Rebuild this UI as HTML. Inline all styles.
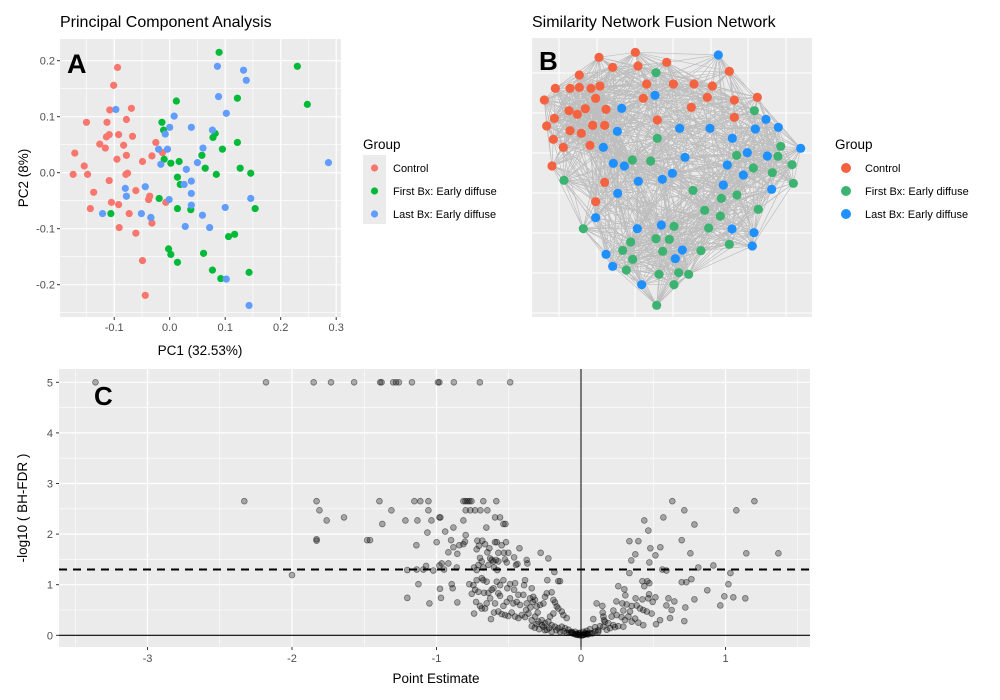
<!DOCTYPE html>
<html><head><meta charset="utf-8">
<style>
html,body{margin:0;padding:0;background:#fff;}
svg{display:block;font-family:"Liberation Sans",sans-serif;}
</style></head>
<body>
<svg id="fig" width="1000" height="700" viewBox="0 0 1000 700" xmlns="http://www.w3.org/2000/svg">
<g id="pA"></g>
<g id="pB"></g>
<g id="pC"></g>
</svg>
<script>
// ---------- Panel A data ----------
const pcaGroups = ["Control","First Bx: Early diffuse","Last Bx: Early diffuse"];
const pcaColors = ["#F8766D","#00BA38","#619CFF"];
const ctrlX = [-0.094,-0.101,-0.108,-0.069,-0.150,-0.113,-0.078,-0.109,-0.114,-0.092,-0.067,-0.126,-0.116,-0.083,-0.025,-0.171,-0.095,-0.078,-0.013,-0.032,-0.154,-0.049,-0.174,-0.148,-0.079,-0.076,-0.109,-0.137,-0.061,-0.036,-0.038,-0.105,-0.092,-0.143,-0.073,-0.007,-0.091,-0.061,-0.032,-0.049,-0.044];
const ctrlY = [0.188,0.156,0.112,0.115,0.090,0.090,0.095,0.068,0.064,0.068,0.065,0.051,0.044,0.049,0.054,0.035,0.024,0.031,0.036,0.030,0.012,0.020,-0.003,-0.003,-0.003,-0.001,-0.014,-0.035,-0.032,-0.042,-0.048,-0.053,-0.057,-0.064,-0.073,-0.053,-0.098,-0.108,-0.090,-0.157,-0.219];
const firstX = [0.089,0.230,0.248,0.012,0.122,-0.014,-0.011,0.082,0.078,0.122,0.095,-0.010,0.002,0.017,0.058,0.064,0.127,0.084,0.146,0.014,0.019,-0.019,0.014,0.038,0.154,-0.106,-0.034,0.106,0.117,-0.002,0.002,0.014,0.061,0.077,0.092,0.143];
const firstY = [0.215,0.190,0.122,0.128,0.133,0.090,0.076,0.070,0.063,0.054,0.042,0.024,0.017,0.020,0.031,0.008,0.008,-0.003,-0.001,-0.008,-0.021,-0.046,-0.064,-0.066,-0.064,-0.073,-0.080,-0.114,-0.110,-0.136,-0.146,-0.160,-0.144,-0.174,-0.189,-0.178];
const lastX = [0.086,0.133,0.138,0.088,0.102,-0.097,0.008,0.039,0.000,-0.008,0.077,-0.020,-0.004,0.060,-0.016,0.050,0.286,0.030,0.039,0.026,-0.080,-0.044,0.039,-0.078,-0.001,0.039,0.146,0.100,-0.121,-0.051,-0.034,0.059,0.028,0.072,0.102,0.143];
const lastY = [0.190,0.183,0.165,0.136,0.106,0.113,0.101,0.081,0.081,0.069,0.076,0.042,0.042,0.044,0.015,0.018,0.018,0.006,-0.015,-0.021,-0.028,-0.025,-0.037,-0.042,-0.048,-0.058,-0.046,-0.062,-0.073,-0.073,-0.080,-0.076,-0.096,-0.098,-0.190,-0.237];
const pcaXTicks = [-0.1,0.0,0.1,0.2,0.3];
const pcaXTickLabels = ["-0.1","0.0","0.1","0.2","0.3"];
const pcaYTicks = [0.2,0.1,0.0,-0.1,-0.2];
const pcaYTickLabels = ["0.2","0.1","0.0","-0.1","-0.2"];

// ---------- Panel B data (network layout coordinates) ----------
const netGroups = ["Control","First Bx: Early diffuse","Last Bx: Early diffuse"];
const netColors = ["#F4623F","#3CB371","#1E90FF"];
const netCtrlX = [237,346,278,354,440,628,178,106,150,178,213,240,380,460,522,577,73,227,370,562,643,712,147,172,196,258,514,103,80,218,254,150,184,412,643,100,130,210,96,254,227];
const netCtrlY = [82,67,112,108,97,124,135,175,175,172,175,168,162,162,162,168,210,205,205,202,210,202,242,253,236,238,232,265,288,286,286,302,310,270,262,328,352,346,408,457,515];
const netFirstX = [408,703,412,337,392,650,782,774,700,757,816,820,132,519,604,651,554,601,715,190,566,628,543,332,308,408,448,462,428,338,319,417,476,506,462,410];
const netFirstY = [128,242,325,390,393,376,349,379,414,428,404,460,451,481,505,495,541,558,538,596,594,643,662,636,661,626,628,589,664,688,720,733,728,733,764,826];
const netLastX = [595,405,305,738,775,706,570,479,292,637,250,842,495,682,742,280,313,457,427,355,622,670,610,755,293,227,352,424,636,702,697,487,466,258,278,365];
const netLastY = [75,196,235,268,292,297,295,295,304,325,352,355,382,368,378,400,408,430,448,454,405,435,465,478,490,563,596,585,597,608,648,660,686,673,709,764];

// ---------- Panel C data ----------
const volEstimate = [
-3.36,-2.18,-1.85,-1.73,-1.57,-1.39,-1.38,-1.30,-1.28,-1.26,-1.17,-0.99,-0.98,-0.88,-0.70,-0.49,
-2.33,-1.83,-1.81,-1.76,-1.64,-1.48,-1.83,-1.83,-2.00,
-1.395,-1.312,-1.375,-1.215,-1.153,-1.112,-1.056,-1.056,-1.132,-1.035,-1.063,-0.973,-0.814,-0.800,-0.786,-0.772,-0.758,-0.798,-0.766,-0.733,-0.696,-0.648,-0.676,-0.586,-0.595,-0.560,-0.537,-0.523,-0.814,-0.883,-0.655,-1.139,-1.46,-0.98,-0.94,
-0.999,-0.899,-0.883,-0.918,-0.856,-0.842,-0.814,-0.803,-0.798,-0.717,-0.683,-0.664,-0.722,-0.706,-0.648,-0.634,-0.595,-0.583,-0.549,-0.519,-0.572,-0.533,-0.503,-0.426,-0.463,-0.629,-0.618,-0.606,-0.588,-0.572,-0.699,-0.687,-0.710,-0.722,-0.740,-0.676,-0.641,-0.602,-0.579,-0.526,-0.514,-0.376,-0.371,-0.279,-0.226,-0.450,-0.440,-1.202,-1.137,-1.091,-1.072,-1.022,-0.980,-0.964,-0.948,-0.918,-0.860,-0.184,-0.157,-0.145,-0.233,
-1.125,-0.976,-0.895,-0.888,-1.202,-0.969,-1.049,-0.856,-0.773,-0.745,-0.722,-0.687,-0.676,-0.653,-0.733,-0.756,-0.710,-0.671,-0.641,-0.618,-0.606,-0.583,-0.560,-0.537,-0.510,-0.491,-0.456,-0.463,-0.433,-0.399,-0.387,-0.394,-0.341,-0.330,-0.318,-0.249,-0.237,-0.203,
-0.726,-0.699,-0.664,-0.653,-0.629,-0.595,-0.572,-0.560,-0.537,-0.514,-0.491,-0.468,-0.445,-0.422,-0.376,-0.353,-0.334,-0.307,-0.283,-0.260,-0.191,-0.180,-0.168,
-0.740,-0.687,-0.623,-0.602,-0.572,-0.549,-0.526,-0.503,-0.480,-0.456,-0.433,-0.410,-0.387,-0.341,-0.318,-0.295,-0.272,-0.249,-0.226,-0.203,-0.180,-0.157,-0.133,-0.110,-0.087,-0.064,-0.041,-0.018,-0.010,-0.214,-0.191,-0.157,-0.133,-0.122,-0.099,-0.341,-0.307,-0.260,-0.237,-0.203,-0.145,-0.099,-0.053,-0.030,-0.364,-0.380,-0.350,-0.300,-0.270,-0.320,-0.290,-0.250,-0.220,-0.170,-0.120,-0.080,
0.016,0.04,0.06,
0.632,0.715,1.200,1.075,0.438,0.570,0.785,0.466,0.335,0.397,0.697,0.480,0.549,0.376,0.515,0.757,1.144,1.366,0.348,0.473,0.563,0.591,0.812,0.916,0.335,1.034,0.425,0.459,0.438,0.473,0.764,0.697,0.729,1.020,0.258,0.300,0.874,0.307,0.471,0.378,0.425,0.466,0.515,0.605,0.646,0.785,0.992,1.054,1.137,0.964,0.722,0.715,
0.245,0.286,0.316,0.351,0.385,0.408,0.431,0.455,0.489,0.496,0.591,0.627,0.616,0.547,0.519,0.431,0.108,0.148,0.150,0.224,0.212,0.247,0.281,0.304,0.328,0.351,0.374,0.397,0.085,0.155,0.166,0.189,0.224,0.258,0.293,0.132,0.097,0.062,0.039,0.016,-0.007,0.201,0.235,0.155,0.178,0.120,0.074,0.028,0.159,0.339,0.293,
0.00,0.02,-0.02,0.04,-0.04,0.01,-0.01,0.03,-0.03,0.05,-0.06,0.08,0.10,0.12,-0.07
];
const volLogFdr = [
5,5,5,5,5,5,5,5,5,5,5,5,5,5,5,5,
2.65,2.65,2.47,2.27,2.33,1.88,1.90,1.87,1.19,
2.65,2.47,2.20,2.27,2.65,2.65,2.65,2.47,2.27,2.27,2.03,2.33,2.65,2.65,2.65,2.65,2.65,2.47,2.47,2.47,2.47,2.47,2.65,2.65,2.33,2.33,2.20,2.20,2.27,2.13,2.13,1.78,1.88,2.33,2.05,
1.84,1.88,1.74,1.64,1.61,1.78,1.80,1.85,1.98,1.87,1.87,1.80,1.70,1.77,1.64,1.72,1.84,1.84,1.78,1.84,1.63,1.63,1.63,1.72,1.54,1.52,1.49,1.46,1.49,1.46,1.53,1.46,1.39,1.29,1.34,1.34,1.39,1.34,1.29,1.50,1.44,1.49,1.42,1.63,1.52,1.39,1.41,1.29,1.30,1.30,1.37,1.28,1.38,1.42,1.30,1.42,1.34,1.25,1.07,1.07,1.09,
1.01,0.92,1.01,0.93,0.74,0.74,0.63,0.65,1.01,0.99,1.09,1.13,1.09,1.06,0.90,0.82,0.86,0.84,0.84,0.90,0.93,1.06,0.99,1.09,0.93,1.01,1.03,0.90,0.80,0.80,1.09,0.99,0.93,0.76,0.70,0.76,0.83,0.85,
0.66,0.58,0.53,0.63,0.73,0.63,0.83,0.78,0.58,0.66,0.73,0.63,0.66,0.60,0.63,0.73,0.66,0.57,0.60,0.63,0.70,0.65,0.57,
0.43,0.53,0.32,0.45,0.47,0.42,0.40,0.38,0.45,0.37,0.34,0.40,0.36,0.30,0.37,0.27,0.30,0.24,0.27,0.20,0.17,0.14,0.17,0.14,0.11,0.07,0.07,0.04,0.03,0.37,0.43,0.53,0.47,0.40,0.34,0.18,0.22,0.17,0.11,0.07,0.07,0.05,0.03,0.01,0.43,0.50,0.55,0.45,0.20,0.15,0.12,0.10,0.14,0.10,0.08,0.05,
0.01,0.03,0.04,
2.65,2.47,2.65,2.47,2.27,2.33,2.19,2.07,1.86,1.86,1.88,1.72,1.74,1.60,1.58,1.62,1.62,1.62,1.48,1.44,1.30,1.28,1.34,1.38,1.23,1.23,1.07,1.07,0.97,1.03,1.11,1.05,1.05,1.01,0.97,0.91,0.89,0.79,0.81,0.73,0.71,0.73,0.75,0.73,0.67,0.71,0.77,0.75,0.73,0.59,0.55,0.28,
0.67,0.63,0.61,0.58,0.59,0.53,0.50,0.47,0.43,0.66,0.59,0.50,0.34,0.30,0.22,0.20,0.63,0.58,0.45,0.49,0.37,0.40,0.36,0.30,0.37,0.27,0.33,0.25,0.32,0.37,0.27,0.24,0.20,0.18,0.17,0.18,0.16,0.12,0.09,0.07,0.05,0.14,0.16,0.17,0.11,0.07,0.04,0.03,0.30,0.47,0.49,
0.00,0.01,0.01,0.02,0.02,0.00,0.00,0.05,0.03,0.02,0.05,0.04,0.08,0.10,0.06
];
const volXTicks = [-3,-2,-1,0,1];
const volXTickLabels = ["-3","-2","-1","0","1"];
const volYTicks = [0,1,2,3,4,5];
const volYTickLabels = ["0","1","2","3","4","5"];
const fdrThreshold = 1.3;

const NS = "http://www.w3.org/2000/svg";
function mk(parent, tag, attrs, text){
  const e = document.createElementNS(NS, tag);
  for (const k in attrs) e.setAttribute(k, attrs[k]);
  if (text !== undefined) e.textContent = text;
  parent.appendChild(e);
  return e;
}

// ===== Panel A =====
(function(){
  const g = document.getElementById('pA');
  const L=60,R=341,T=39,B=317;
  const xs = v => 169.7 + v*555;
  const ys = v => 172.7 - v*560;
  const t = mk(g,'text',{x:60,y:27,'font-size':16,fill:'#000'},'Principal Component Analysis');
  
  
  const bg = mk(g,'rect',{x:L,y:T,width:R-L,height:B-T,fill:'#EBEBEB'});
  
  
  for (let v=-0.15; v<0.31; v+=0.1){ mk(g,'line',{x1:xs(v),x2:xs(v),y1:T,y2:B,stroke:'#fff','stroke-width':0.6}); }
  for (let v=-0.25; v<0.23; v+=0.1){ mk(g,'line',{x1:L,x2:R,y1:ys(v),y2:ys(v),stroke:'#fff','stroke-width':0.6}); }
  pcaXTicks.forEach((v,i)=>{
    mk(g,'line',{x1:xs(v),x2:xs(v),y1:T,y2:B,stroke:'#fff','stroke-width':1.2});
    mk(g,'line',{x1:xs(v),x2:xs(v),y1:B,y2:B+3,stroke:'#333','stroke-width':1});
    const l = mk(g,'text',{x:xs(v),y:B+14,'font-size':11,fill:'#4D4D4D','text-anchor':'middle'},pcaXTickLabels[i]);
    
    
  });
  pcaYTicks.forEach((v,i)=>{
    mk(g,'line',{x1:L,x2:R,y1:ys(v),y2:ys(v),stroke:'#fff','stroke-width':1.2});
    mk(g,'line',{x1:L-3,x2:L,y1:ys(v),y2:ys(v),stroke:'#333','stroke-width':1});
    const l = mk(g,'text',{x:L-5,y:ys(v)+4,'font-size':11,fill:'#4D4D4D','text-anchor':'end'},pcaYTickLabels[i]);
    
    
  });
  const series = [[ctrlX,ctrlY],[firstX,firstY],[lastX,lastY]];
  series.forEach((s,gi)=>{
    s[0].forEach((x,i)=>{
      const c = mk(g,'circle',{cx:xs(x),cy:ys(s[1][i]),r:3.6,fill:pcaColors[gi]});
      
      
    });
  });
  const A = mk(g,'text',{x:67,y:73,'font-size':27,'font-weight':'bold',fill:'#000'},'A');
  
  
  const xt = mk(g,'text',{x:200,y:355,'font-size':13.5,fill:'#000','text-anchor':'middle'},'PC1 (32.53%)');
  
  
  const yt = mk(g,'text',{x:0,y:0,'font-size':13.5,fill:'#000','text-anchor':'middle',transform:'translate(28,178) rotate(-90)'},'PC2 (8%)');
  
  
  const lg = mk(g,'g',{});
  
  
  mk(lg,'text',{x:363,y:149,'font-size':13.5,fill:'#000'},'Group');
  mk(lg,'rect',{x:363,y:155,width:23,height:69,fill:'#EBEBEB'});
  pcaGroups.forEach((n,i)=>{
    const cy = 168+i*23;
    const e = mk(lg,'g',{});
    
    
    mk(e,'circle',{cx:374.5,cy:cy,r:3.6,fill:pcaColors[i]});
    mk(e,'text',{x:393,y:cy+4,'font-size':11,fill:'#000'},n);
  });
})();

// ===== Panel B =====
(function(){
  const g = document.getElementById('pB');
  const L=532,R=812,T=38,B=317;
  const xs = v => 520 + v/3;
  const ys = v => 30 + v/3;
  const t = mk(g,'text',{x:532,y:27,'font-size':16,fill:'#000'},'Similarity Network Fusion Network');
  
  
  const bg = mk(g,'rect',{x:L,y:T,width:R-L,height:B-T,fill:'#EBEBEB'});
  
  
  [559,597,635,673,711,748,786].forEach(x=>mk(g,'line',{x1:x,x2:x,y1:T,y2:B,stroke:'#fff','stroke-width':1.1}));
  [73,113,153,193,233,273,313].forEach(y=>mk(g,'line',{x1:L,x2:R,y1:y,y2:y,stroke:'#fff','stroke-width':1.1}));
  const nodes = [];
  netCtrlX.forEach((x,i)=>nodes.push([x,netCtrlY[i],0]));
  netFirstX.forEach((x,i)=>nodes.push([x,netFirstY[i],1]));
  netLastX.forEach((x,i)=>nodes.push([x,netLastY[i],2]));
  const eg = mk(g,'g',{stroke:'#BEBEBE','stroke-width':0.7,fill:'none'});
  
  
  let d = '';
  for (let i=0;i<nodes.length;i++){
    for (let j=i+1;j<nodes.length;j++){
      const dx=nodes[i][0]-nodes[j][0], dy=nodes[i][1]-nodes[j][1];
      const dist=Math.sqrt(dx*dx+dy*dy);
      const h=((i*7919+j*104729)%97)/97;
      const same = nodes[i][2]===nodes[j][2];
      if (dist<170 || (dist<380 && h<(same?0.28:0.12)) || (h<0.025)){
        d += 'M'+xs(nodes[i][0]).toFixed(1)+' '+ys(nodes[i][1]).toFixed(1)+'L'+xs(nodes[j][0]).toFixed(1)+' '+ys(nodes[j][1]).toFixed(1);
      }
    }
  }
  mk(eg,'path',{d:d});
  nodes.forEach(n=>{
    const c = mk(g,'circle',{cx:xs(n[0]),cy:ys(n[1]),r:4.6,fill:netColors[n[2]]});
    
    
  });
  const Bl = mk(g,'text',{x:539,y:70,'font-size':26,'font-weight':'bold',fill:'#000'},'B');
  
  
  const lg = mk(g,'g',{});
  
  
  mk(lg,'text',{x:835,y:149,'font-size':13.5,fill:'#000'},'Group');
  netGroups.forEach((n,i)=>{
    const cy = 168+i*23;
    const e = mk(lg,'g',{});
    
    
    mk(e,'circle',{cx:846,cy:cy,r:5,fill:netColors[i]});
    mk(e,'text',{x:865,y:cy+4,'font-size':11,fill:'#000'},n);
  });
})();

// ===== Panel C =====
(function(){
  const g = document.getElementById('pC');
  const L=59,R=810,T=369,B=647;
  const xs = v => 581 + v*144.5;
  const ys = v => 635.3 - v*50.6;
  const bg = mk(g,'rect',{x:L,y:T,width:R-L,height:B-T,fill:'#EBEBEB'});
  
  
  for (let v=-3.5; v<1.6; v+=1){ mk(g,'line',{x1:xs(v),x2:xs(v),y1:T,y2:B,stroke:'#fff','stroke-width':0.6}); }
  for (let v=0.5; v<5; v+=1){ mk(g,'line',{x1:L,x2:R,y1:ys(v),y2:ys(v),stroke:'#fff','stroke-width':0.6}); }
  volXTicks.forEach((v,i)=>{
    mk(g,'line',{x1:xs(v),x2:xs(v),y1:T,y2:B,stroke:'#fff','stroke-width':1.2});
    mk(g,'line',{x1:xs(v),x2:xs(v),y1:B,y2:B+3,stroke:'#333','stroke-width':1});
    const l = mk(g,'text',{x:xs(v),y:B+15,'font-size':11,fill:'#4D4D4D','text-anchor':'middle'},volXTickLabels[i]);
    
    
  });
  volYTicks.forEach((v,i)=>{
    mk(g,'line',{x1:L,x2:R,y1:ys(v),y2:ys(v),stroke:'#fff','stroke-width':1.2});
    mk(g,'line',{x1:L-3,x2:L,y1:ys(v),y2:ys(v),stroke:'#333','stroke-width':1});
    const l = mk(g,'text',{x:L-6,y:ys(v)+4,'font-size':11,fill:'#4D4D4D','text-anchor':'end'},volYTickLabels[i]);
    
    
  });
  const v0 = mk(g,'line',{x1:xs(0),x2:xs(0),y1:T,y2:B,stroke:'#000','stroke-width':1});
  
  
  const h0 = mk(g,'line',{x1:L,x2:R,y1:ys(0),y2:ys(0),stroke:'#000','stroke-width':1.2});
  
  
  volEstimate.forEach((x,i)=>{
    const c = mk(g,'circle',{cx:xs(x),cy:ys(volLogFdr[i]),r:2.9,fill:'rgba(0,0,0,0.3)',stroke:'rgba(0,0,0,0.45)','stroke-width':0.8});
    
    
  });
  const th = mk(g,'line',{x1:L,x2:R,y1:ys(fdrThreshold),y2:ys(fdrThreshold),stroke:'#000','stroke-width':2,'stroke-dasharray':'8,6'});
  
  
  const Cl = mk(g,'text',{x:94,y:405,'font-size':26,'font-weight':'bold',fill:'#000'},'C');
  
  
  const xt = mk(g,'text',{x:436,y:683,'font-size':13.5,fill:'#000','text-anchor':'middle'},'Point Estimate');
  
  
  const yt = mk(g,'text',{x:0,y:0,'font-size':13.5,fill:'#000','text-anchor':'middle',transform:'translate(27,508) rotate(-90)'},'-log10 ( BH-FDR )');
  
  
})();
</script>
</body></html>
